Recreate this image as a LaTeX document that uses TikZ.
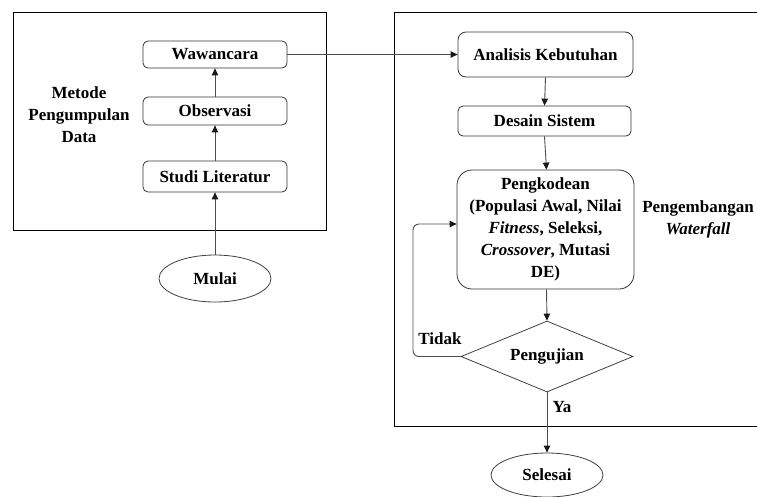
\documentclass[tikz,border=0pt]{standalone}
\usepackage{fontspec}
\setmainfont{Liberation Serif}
\newfontfamily\dfont{Liberation Serif}
\usetikzlibrary{arrows.meta,shapes.geometric,calc}
\begin{document}
\begin{tikzpicture}[x=1pt,y=-1pt,
  every node/.style={font=\dfont\fontsize{17}{22}\selectfont\bfseries, align=center},
  frame/.style={draw=black, line width=0.9pt},
  procbox/.style={draw=black!80, line width=0.8pt, rounded corners=5pt, inner sep=0pt},
  oval/.style={draw=black!75, line width=0.8pt, ellipse, inner sep=0pt},
  decision/.style={draw=black!75, line width=0.8pt, diamond, shape aspect=2.4, inner sep=0pt, minimum width=172pt, minimum height=71pt},
  conn/.style={draw=black!70, line width=0.9pt, -{Triangle[length=7pt,width=6.5pt,color=black!90]}},
  lbl/.style={inner sep=0pt}
]
\useasboundingbox (0,0) rectangle (757,496);
% frames
\draw[frame] (13,12) rectangle (326,230);
\draw[frame] (394,12) rectangle (770,426);
% left column
\node[procbox, minimum width=144pt, minimum height=27pt] (waw) at (215,54.5) {Wawancara};
\node[procbox, minimum width=144pt, minimum height=28pt] (obs) at (215,111) {Observasi};
\node[procbox, minimum width=144pt, minimum height=31pt] (stu) at (215,176.5) {Studi Literatur};
\node[oval, minimum width=112pt, minimum height=47pt] (mul) at (215,278.5) {Mulai};
\node[lbl] (met) at (79,115) {Metode\\Pengumpulan\\Data};
% right column
\node[procbox, rounded corners=8pt, minimum width=175pt, minimum height=45pt] (ana) at (545.5,54.5) {Analisis Kebutuhan};
\node[procbox, minimum width=173pt, minimum height=30pt] (des) at (544.5,121) {Desain Sistem};
\node[procbox, rounded corners=15pt, minimum width=177pt, minimum height=119pt] (pen) at (545.5,229.5) {Pengkodean\\(Populasi Awal, Nilai\\\textit{Fitness}, Seleksi,\\\textit{Crossover}, Mutasi\\DE)};
\node[lbl] (wat) at (698,219) {Pengembangan\\\textit{Waterfall}};
\node[decision] (uji) at (547,356.5) {Pengujian};
\node[oval, minimum width=112pt, minimum height=44pt] (sel) at (547,475) {Selesai};
\node[lbl] (tid) at (440,339) {Tidak};
\node[lbl] (ya) at (562,407) {Ya};
\coordinate (loopx) at (413,356.5);
\coordinate (loopin) at ([yshift=5.5pt]pen.west);
% connectors
\draw[conn] (mul.north) -- (stu.south);
\draw[conn] (stu.north) -- (obs.south);
\draw[conn] (obs.north) -- (waw.south);
\draw[conn] (waw.east) -- (ana.west);
\draw[conn] (ana.south) -- (des.north);
\draw[conn] (des.south) -- ([xshift=1pt]pen.north);
\draw[conn] ([xshift=1pt]pen.south) -- (uji.north);
\draw[conn] (uji.south) -- (sel.north);
\draw[conn, rounded corners=6pt] (uji.west) -- (loopx) |- (loopin);
\end{tikzpicture}
\end{document}
